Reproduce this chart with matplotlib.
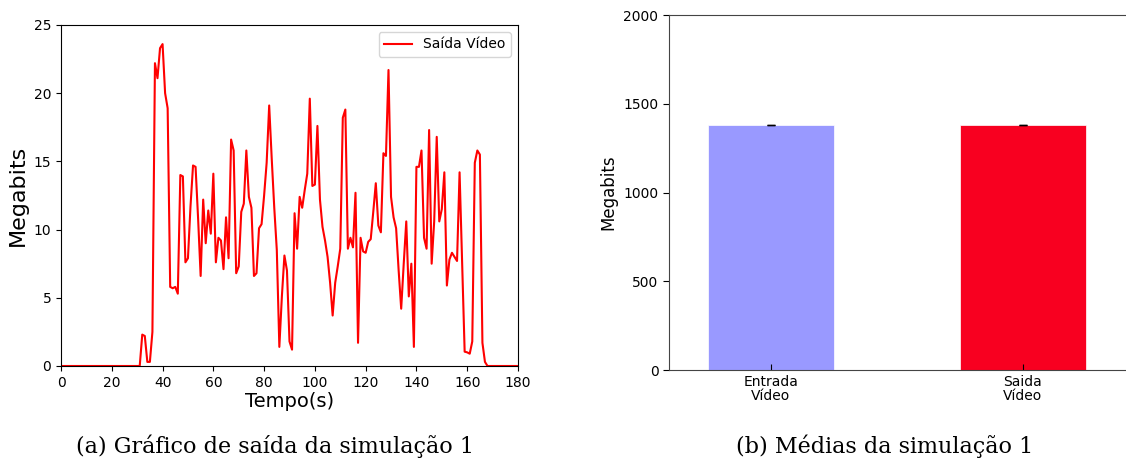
import matplotlib
matplotlib.use('Agg')
import matplotlib.pyplot as plt

# left panel: throughput over time (one sample per second)
tempo = list(range(0, 181))
saida_video = [0.0] * 32 + [
    2.3, 2.2, 0.3, 0.3, 2.5, 22.2, 21.1, 23.3, 23.6, 20.0,   # 32-41
    18.9, 5.8, 5.7, 5.8, 5.3, 14.0, 13.9, 7.6, 7.9, 11.7,     # 42-51
    14.7, 14.6, 10.8, 6.6, 12.2, 9.0, 11.4, 9.7, 14.1, 7.6,   # 52-61
    9.4, 9.2, 7.1, 10.9, 7.9, 16.6, 15.8, 6.8, 7.3, 11.3,     # 62-71
    11.9, 15.8, 12.4, 11.6, 6.6, 6.8, 10.1, 10.4, 12.5, 14.9, # 72-81
    19.1, 15.2, 11.6, 8.5, 1.4, 5.1, 8.1, 7.0, 1.8, 1.2,      # 82-91
    11.2, 8.6, 12.4, 11.6, 12.9, 14.1, 19.6, 13.2, 13.3, 17.6, # 92-101
    12.2, 10.2, 9.2, 8.0, 6.1, 3.7, 6.1, 7.3, 8.6, 18.2,      # 102-111
    18.8, 8.6, 9.4, 8.7, 12.7, 1.7, 9.4, 8.4, 8.3, 9.1,       # 112-121
    9.3, 11.3, 13.4, 10.3, 9.8, 15.6, 15.4, 21.7, 12.4, 10.9, # 122-131
    10.1, 7.0, 4.2, 7.5, 10.6, 5.1, 7.5, 1.4, 14.6, 14.6,     # 132-141
    15.8, 9.4, 8.6, 17.3, 7.5, 10.6, 16.8, 10.6, 11.5, 14.2,  # 142-151
    5.9, 7.8, 8.3, 8.0, 7.7, 14.2, 7.5, 1.05, 1.0, 0.9,       # 152-161
    1.8, 14.9, 15.8, 15.5, 1.7, 0.3] + [0.0] * 13             # 162-180

# right panel: averages
categorias = ['Entrada\nVídeo', 'Saida\nVídeo']
medias = [1380, 1380]
erros = [2, 2]
cores = ['#9999ff', '#f80020']

fig = plt.figure(figsize=(11.26, 4.62), dpi=100)

# (a) line chart
ax1 = fig.add_axes([0.0542, 0.2078, 0.4058, 0.7381])
ax1.plot(tempo, saida_video, color='red', lw=1.5, label='Saída Vídeo')
ax1.set_xlim(0, 180)
ax1.set_ylim(0, 25)
ax1.set_xticks(range(0, 181, 20))
ax1.set_yticks(range(0, 26, 5))
ax1.tick_params(labelsize=10)
ax1.set_xlabel('Tempo(s)', fontsize=14, labelpad=2)
ax1.set_ylabel('Megabits', fontsize=16)
ax1.legend(loc='upper right', fontsize=10)

# (b) bar chart, classic look
ax2 = fig.add_axes([0.594, 0.199, 0.406, 0.7685])
ax2.bar(range(len(medias)), medias, width=0.5, color=cores, yerr=erros,
        ecolor='black', capsize=3, edgecolor='white', linewidth=0.5)
ax2.set_xlim(-0.405, 1.41)
ax2.set_ylim(0, 2000)
ax2.set_yticks(range(0, 2001, 500))
ax2.set_xticks(range(len(categorias)))
ax2.set_xticklabels(categorias, fontsize=10, linespacing=1.0)
ax2.tick_params(axis='x', direction='in', length=4)
ax2.tick_params(axis='y', direction='out', length=4)
ax2.tick_params(labelsize=10)
ax2.set_ylabel('Megabits', fontsize=12)
ax2.spines['right'].set_visible(False)
for s in ax2.spines.values():
    s.set_color('#444444')

cap_font = ['DejaVu Serif']
fig.text(0.244, 0.035, '(a) Gráfico de saída da simulação 1',
         ha='center', va='center', fontsize=16, family=cap_font)
fig.text(0.786, 0.035, '(b) Médias da simulação 1',
         ha='center', va='center', fontsize=16, family=cap_font)

fig.savefig('out.png', dpi=100)
